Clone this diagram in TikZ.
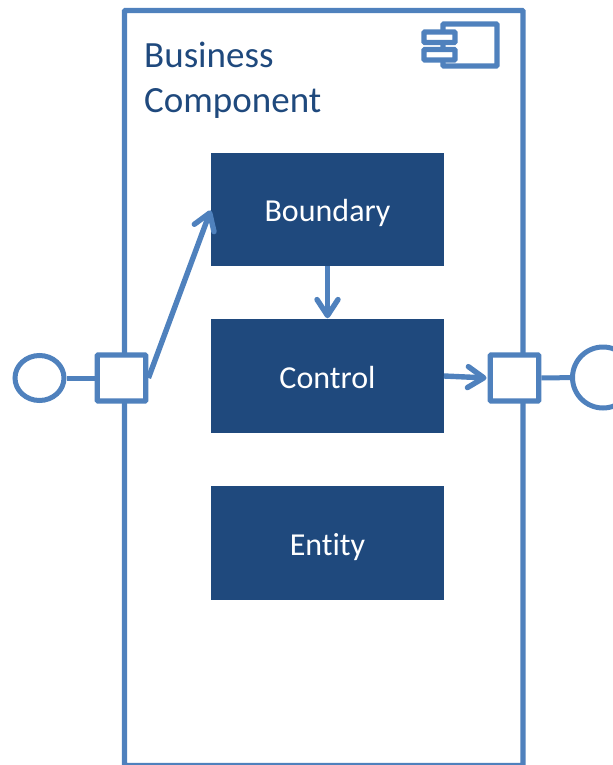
\documentclass[tikz,border=0pt]{standalone}
\usepackage{fontspec}
\setmainfont[Ligatures=CommonOff]{Carlito}
\usetikzlibrary{arrows.meta,shapes.geometric}
\definecolor{lineblue}{HTML}{4F81BD}
\definecolor{boxblue}{HTML}{1F497D}
\newcommand{\boxlabel}[1]{\raisebox{-12bp}[0pt][0pt]{#1}}
\tikzset{
  x=1bp,y=-1bp,
  frameline/.style={draw=lineblue,line width=5.4bp,rounded corners=1bp,inner sep=0pt,outer sep=0pt,anchor=north west},
  bluebox/.style={fill=boxblue,text=white,minimum width=233bp,minimum height=113.5bp,inner sep=0pt,outer sep=0pt,font=\fontsize{32bp}{38bp}\selectfont},
  portbox/.style={draw=lineblue,fill=white,line width=5.4bp,rounded corners=1bp,inner sep=0pt,minimum width=48.5bp,minimum height=46bp},
  wire/.style={draw=lineblue,line width=5bp},
  flow/.style={draw=lineblue,line width=5.4bp,shorten >=1bp,-{Straight Barb[length=16bp,width=21bp,line width=5.4bp,round]}},
  title/.style={text=boxblue,align=left,inner sep=0pt,anchor=north west,font=\fontsize{37bp}{45bp}\selectfont}
}
\begin{document}
\begin{tikzpicture}
\useasboundingbox (0,0) rectangle (613,765);
\clip (0,0) rectangle (613,765);
% frame
\node[frameline,minimum width=398.5bp,minimum height=755bp] (frame) at (124.5,10.5) {};
% icon
\node[frameline,minimum width=54bp,minimum height=42bp] (icon) at (443,24) {};
\node[frameline,fill=white,minimum width=31bp,minimum height=10.5bp] (iconA) at (424,32) {};
\node[frameline,fill=white,minimum width=31bp,minimum height=10.5bp] (iconB) at (424,49.5) {};
% title
\node[title] (name) at (144,42) {Business\\Component};
% boxes
\node[bluebox] (boundary) at (327.5,209.5) {\boxlabel{Boundary}};
\node[bluebox] (control) at (327.5,376) {\boxlabel{Control}};
\node[bluebox] (entity) at (327.5,543) {\boxlabel{Entity}};
% ports
\node[portbox] (lport) at (121.5,378) {};
\node[portbox] (rport) at (514.5,378) {};
% interfaces
\node[draw=lineblue,fill=white,line width=5bp,ellipse,minimum width=49bp,minimum height=45bp,inner sep=0pt] (lcirc) at (39.5,378) {};
\node[draw=lineblue,fill=white,line width=5bp,circle,minimum size=61bp,inner sep=0pt] (rcirc) at (603,377.5) {};
\draw[wire] (lcirc) -- (lport);
\draw[wire] (rport) -- (rcirc);
% flows
\draw[flow] (lport.east) -- (boundary.west);
\draw[flow] (boundary.south) -- (control.north);
\draw[flow] (control.east) -- (rport.west);
\end{tikzpicture}
\end{document}
